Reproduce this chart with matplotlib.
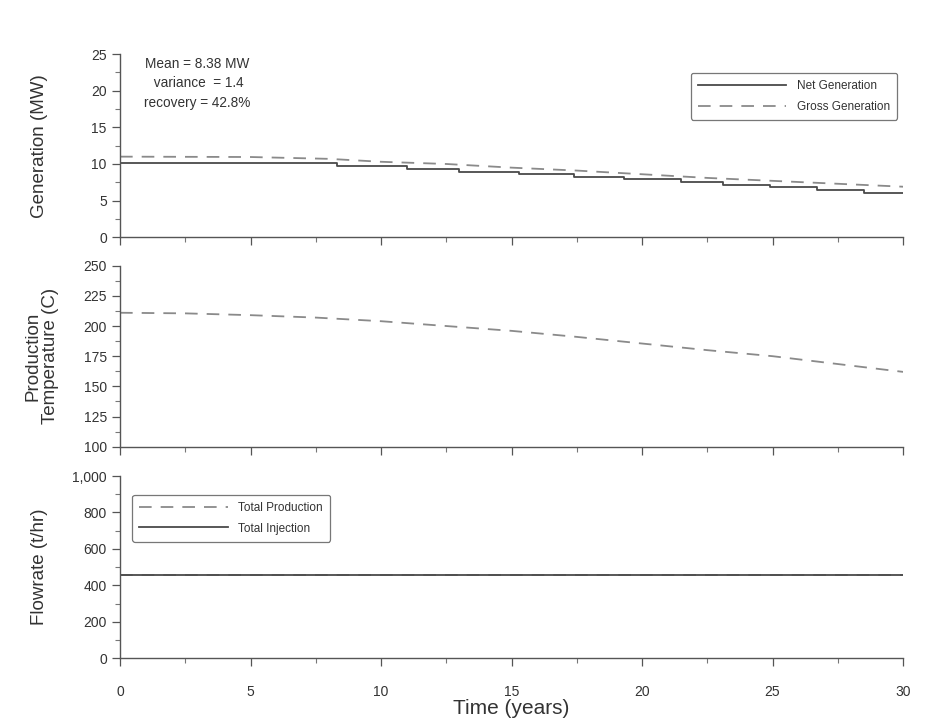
import matplotlib
matplotlib.use("Agg")
import matplotlib.pyplot as plt
from matplotlib.ticker import MultipleLocator, FuncFormatter

plt.rcParams['font.family'] = ['Liberation Sans', 'DejaVu Sans']

# ---- data ----
net_t = [0, 8.3, 11, 13, 15.3, 17.4, 19.3, 21.5, 23.1, 24.9, 26.7, 28.5, 30]
net_gen = [10.2, 9.7, 9.3, 8.95, 8.6, 8.25, 7.9, 7.55, 7.2, 6.8, 6.4, 6.0, 6.0]

gross_t = [0, 5, 8, 10, 12.5, 15, 17.5, 20, 22.5, 25, 27.5, 30]
gross_gen = [11.0, 10.95, 10.7, 10.3, 10.0, 9.5, 9.1, 8.6, 8.1, 7.7, 7.3, 6.9]

temp_t = [0, 2.5, 5, 7.5, 10, 12.5, 15, 17.5, 20, 22.5, 25, 27.5, 30]
temp = [211, 210.5, 209, 207, 204, 200, 196, 191, 185.5, 180, 175, 168.5, 162]

flow_t = [0, 30]
total_production = [457, 457]
total_injection = [457, 457]

stats_text = ["Mean = 8.38 MW", " variance  = 1.4", "recovery = 42.8%"]

# ---- figure ----
fig = plt.figure(figsize=(9.45, 7.23), dpi=100)
L, W = 0.127, 0.9556 - 0.127
ax1 = fig.add_axes([L, 0.6718, W, 0.9253 - 0.6718])
ax2 = fig.add_axes([L, 0.3822, W, 0.6325 - 0.3822])
ax3 = fig.add_axes([L, 0.0895, W, 0.3416 - 0.0895])

solid_c = '#4a4a4a'
dash_c = '#8a8a8a'
txt_c = '#333333'
dash_style = (0, (7, 5))

for ax in (ax1, ax2, ax3):
    for s in ('top', 'right'):
        ax.spines[s].set_visible(False)
    for s in ('left', 'bottom'):
        ax.spines[s].set_color('#555555')
        ax.spines[s].set_linewidth(1.0)
    ax.set_xlim(0, 30)
    ax.xaxis.set_major_locator(MultipleLocator(5))
    ax.xaxis.set_minor_locator(MultipleLocator(2.5))
    ax.tick_params(which='major', length=6, width=0.9, color='#555555',
                   labelsize=10, labelcolor=txt_c, direction='out')
    ax.tick_params(which='minor', length=3.5, width=0.8, color='#777777',
                   direction='out')
    ax.set_facecolor('white')

leg_kw = dict(fontsize=8.5, frameon=True, fancybox=True, handlelength=7.5,
              labelspacing=0.75, borderpad=0.6, handletextpad=0.9)

# top panel
ax1.plot(net_t, net_gen, drawstyle='steps-post', color=solid_c, lw=1.3,
         label='Net Generation')
ax1.plot(gross_t, gross_gen, color=dash_c, lw=1.3, linestyle=dash_style,
         label='Gross Generation')
ax1.set_ylim(0, 25)
ax1.yaxis.set_major_locator(MultipleLocator(5))
ax1.yaxis.set_minor_locator(MultipleLocator(2.5))
ax1.tick_params(axis='x', labelbottom=False)
ax1.set_ylabel('Generation (MW)', fontsize=13.5, color=txt_c)
ax1.yaxis.set_label_coords(-0.092, 0.5)
leg1 = ax1.legend(loc='upper right', bbox_to_anchor=(1.0, 0.93), **leg_kw)
leg1.get_frame().set_edgecolor('#555555')
leg1.get_frame().set_linewidth(0.9)
for t in leg1.get_texts():
    t.set_color(txt_c)
ax1.text(0.098, 0.985, "\n".join(stats_text), transform=ax1.transAxes,
         ha='center', va='top', fontsize=9.8, color=txt_c, linespacing=1.5)

# middle panel
ax2.plot(temp_t, temp, color=dash_c, lw=1.3, linestyle=dash_style)
ax2.set_ylim(100, 250)
ax2.yaxis.set_major_locator(MultipleLocator(25))
ax2.yaxis.set_minor_locator(MultipleLocator(12.5))
ax2.tick_params(axis='x', labelbottom=False)
ax2.set_ylabel('Production\nTemperature (C)', fontsize=13.5, color=txt_c,
               linespacing=1.05)
ax2.yaxis.set_label_coords(-0.078, 0.5)

# bottom panel
ax3.plot(flow_t, total_production, color=dash_c, lw=1.3, linestyle=dash_style,
         label='Total Production')
ax3.plot(flow_t, total_injection, color=solid_c, lw=1.3, label='Total Injection')
ax3.set_ylim(0, 1000)
ax3.yaxis.set_major_locator(MultipleLocator(200))
ax3.yaxis.set_minor_locator(MultipleLocator(100))
ax3.yaxis.set_major_formatter(FuncFormatter(lambda v, p: f"{int(v):,}"))
ax3.set_ylabel('Flowrate (t/hr)', fontsize=13.5, color=txt_c)
ax3.yaxis.set_label_coords(-0.092, 0.5)
ax3.set_xlabel('Time (years)', fontsize=15, color=txt_c, labelpad=0)
ax3.tick_params(axis='x', pad=13)
leg3 = ax3.legend(loc='upper left', bbox_to_anchor=(0.008, 0.93), **leg_kw)
leg3.get_frame().set_edgecolor('#555555')
leg3.get_frame().set_linewidth(0.9)
for t in leg3.get_texts():
    t.set_color(txt_c)

fig.savefig('out.png', dpi=100, facecolor='white')
